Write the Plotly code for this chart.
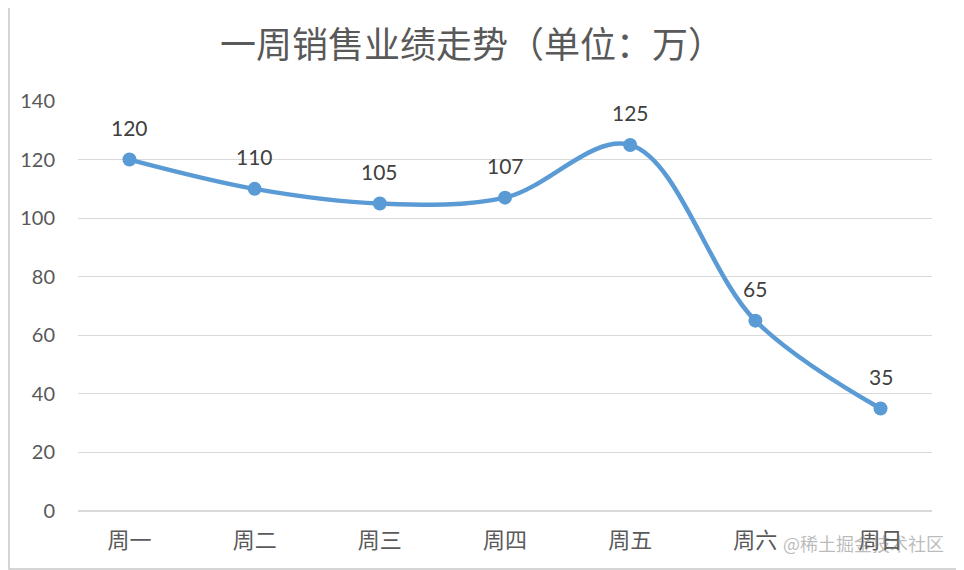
import plotly.graph_objects as go

#%% data
days = ['周一', '周二', '周三', '周四', '周五', '周六', '周日']
sales = [120, 110, 105, 107, 125, 65, 35]
y_ticks = [0, 20, 40, 60, 80, 100, 120, 140]

title_text = '一周销售业绩走势（单位：万）'
watermark = '@稀土掘金技术社区'

#%% layout numbers (page body has an 8px margin)
W, H = 956, 562
ml, mr, mt, mb = 70, 32, 93, 59
pw, ph = W - ml - mr, H - mt - mb

blue = '#5b9bd5'
grey_txt = '#595959'
font_fam = 'Lato, Noto Sans CJK SC, sans-serif'
cjk_fam = 'Noto Sans CJK SC, sans-serif'

trace = go.Scatter(
    x=days,
    y=sales,
    mode='lines+markers',
    line=dict(color=blue, width=4.5, shape='spline', smoothing=1.0),
    marker=dict(color=blue, size=14),
    cliponaxis=False,
    hoverinfo='x+y',
)

fig = go.Figure(data=[trace])

fig.update_layout(
    width=W, height=H,
    margin=dict(l=ml, r=mr, t=mt, b=mb),
    paper_bgcolor='white',
    plot_bgcolor='white',
    showlegend=False,
    title=dict(text=title_text, x=(472 - 8) / W, xanchor='center', y=1 - 37 / H, yanchor='middle',
               font=dict(size=36, color=grey_txt, family=cjk_fam)),
    xaxis=dict(
        type='category',
        showgrid=False,
        showline=False,
        zeroline=False,
        ticks='',
        tickfont=dict(size=22, color=grey_txt, family=cjk_fam),
        ticklabelstandoff=14,
    ),
    yaxis=dict(
        range=[0, 140],
        tickvals=y_ticks,
        showgrid=True,
        gridcolor='#d9d9d9',
        gridwidth=1,
        zeroline=True,
        zerolinecolor='#d9d9d9',
        showline=False,
        ticks='',
        tickfont=dict(size=20, color=grey_txt, family=font_fam),
        ticklabelstandoff=22,
    ),
)

# data labels above each point
for d, v in zip(days, sales):
    fig.add_annotation(x=d, y=v, text=str(v), showarrow=False, yshift=32,
                       xanchor='center', yanchor='middle',
                       font=dict(size=21, color='#404040', family=font_fam))

# outer border of the chart
fig.add_shape(type='rect', xref='paper', yref='paper',
              x0=-(ml - 1) / pw, x1=1 + (mr - 3) / pw,
              y0=-(mb - 1) / ph, y1=1 + (mt + 6) / ph,
              line=dict(color='#c8c8c8', width=1.5), layer='below')

fig.add_annotation(text=watermark, xref='paper', yref='paper',
                   x=(938 - ml) / pw, y=-(535 - mt - ph) / ph,
                   xanchor='right', yanchor='middle', showarrow=False,
                   font=dict(size=18, color='rgba(120,120,120,0.5)', family=cjk_fam))

fig.write_html('out.html')
